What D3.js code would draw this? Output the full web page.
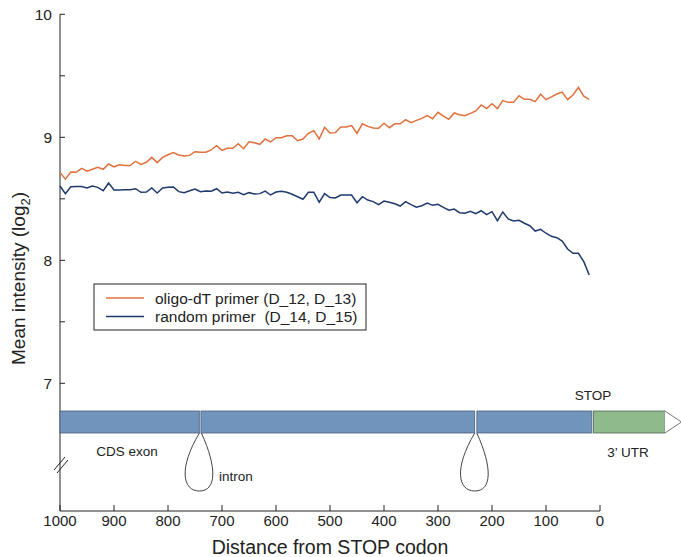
<!DOCTYPE html>
<html lang="en">
<head>
    <meta charset="UTF-8">
    <title>Mean intensity vs distance from STOP codon</title>
    <style>
        body {
            margin: 0;
            background: #fff;
            font-family: "Liberation Sans", Arial, sans-serif;
        }
        .axis-line, .tick {
            stroke: #222;
            stroke-width: 1;
            fill: none;
        }
        .series {
            fill: none;
            stroke-width: 1.5px;
        }
        text {
            white-space: pre;
        }
    </style>
</head>
<body>
    <svg width="681" height="557"></svg>

    <script src="https://d3js.org/d3.v7.min.js"></script>
    <script>
        // distance from STOP codon, 1000 .. 20 step 10
        const distance = d3.range(1000, 19, -10);

        const oligoDT = [
            8.715, 8.66, 8.718, 8.715, 8.748, 8.724, 8.74, 8.756, 8.74, 8.783,
            8.76, 8.777, 8.77, 8.77, 8.805, 8.78, 8.797, 8.837, 8.794, 8.837,
            8.858, 8.875, 8.856, 8.848, 8.853, 8.883, 8.878, 8.878, 8.897, 8.932,
            8.894, 8.91, 8.91, 8.948, 8.907, 8.964, 8.956, 8.943, 8.986, 8.962,
            8.997, 8.997, 9.013, 9.013, 8.972, 8.986, 9.033, 9.054, 8.986, 9.081,
            9.035, 9.038, 9.084, 9.084, 9.095, 9.033, 9.11, 9.089, 9.076, 9.073,
            9.114, 9.078, 9.11, 9.11, 9.143, 9.119, 9.138, 9.154, 9.176, 9.151,
            9.203, 9.173, 9.146, 9.198, 9.184, 9.175, 9.195, 9.214, 9.263, 9.233,
            9.273, 9.233, 9.298, 9.284, 9.284, 9.338, 9.309, 9.309, 9.29, 9.35,
            9.306, 9.328, 9.352, 9.368, 9.306, 9.344, 9.406, 9.335, 9.309
        ];

        const randomPrimer = [
            8.604, 8.542, 8.598, 8.6, 8.6, 8.588, 8.604, 8.593, 8.566, 8.628,
            8.572, 8.572, 8.574, 8.574, 8.582, 8.553, 8.555, 8.588, 8.547, 8.588,
            8.593, 8.596, 8.558, 8.55, 8.566, 8.58, 8.558, 8.563, 8.561, 8.582,
            8.547, 8.555, 8.545, 8.553, 8.534, 8.55, 8.539, 8.542, 8.563, 8.531,
            8.555, 8.561, 8.553, 8.537, 8.517, 8.496, 8.553, 8.553, 8.472, 8.542,
            8.51, 8.507, 8.531, 8.531, 8.531, 8.468, 8.517, 8.49, 8.477, 8.452,
            8.482, 8.472, 8.46, 8.441, 8.477, 8.452, 8.431, 8.444, 8.466, 8.447,
            8.455, 8.431, 8.407, 8.417, 8.387, 8.383, 8.398, 8.379, 8.403, 8.371,
            8.395, 8.322, 8.393, 8.336, 8.32, 8.325, 8.301, 8.281, 8.238, 8.252,
            8.22, 8.195, 8.184, 8.157, 8.092, 8.057, 8.057, 7.989, 7.88
        ];

        const seriesNames = ["oligo-dT primer (D_12, D_13)", "random primer  (D_14, D_15)"];
        const seriesColors = ["#e0703c", "#1e3a6e"];

        const xTicks = [1000, 900, 800, 700, 600, 500, 400, 300, 200, 100, 0];
        const yTicks = [7, 8, 9, 10];
        const yMinorTicks = [7.5, 8.5, 9.5];

        // gene model, in the same distance units as the x axis
        const exons = [[1000, 742], [739, 232], [228, 15]];
        const introns = [740, 230];
        const utr = [12, -120];
        const utrTip = -151;

        const svg = d3.select("svg");

        const x = d3.scaleLinear().domain([1000, 0]).range([60, 600]);
        const y = d3.scaleLinear().domain([7, 10]).range([383.3, 14.3]);
        const axisBottom = 511;

        // axes
        svg.append("line").attr("class", "axis-line")
            .attr("x1", 60).attr("x2", 60).attr("y1", y(10)).attr("y2", axisBottom);
        svg.append("line").attr("class", "axis-line")
            .attr("x1", 60).attr("x2", x(0)).attr("y1", axisBottom).attr("y2", axisBottom);

        svg.selectAll(".ytick").data(yTicks.concat(yMinorTicks)).join("line")
            .attr("class", "tick")
            .attr("x1", 60).attr("x2", 65)
            .attr("y1", d => y(d)).attr("y2", d => y(d));

        svg.selectAll(".ylab").data(yTicks).join("text")
            .attr("x", 52).attr("y", d => y(d))
            .attr("dy", "0.36em")
            .attr("text-anchor", "end")
            .attr("font-size", 15.5)
            .attr("fill", "#222")
            .text(d => d);

        svg.selectAll(".xtick").data(xTicks).join("line")
            .attr("class", "tick")
            .attr("x1", d => x(d)).attr("x2", d => x(d))
            .attr("y1", axisBottom).attr("y2", axisBottom - 6);

        svg.selectAll(".xlab").data(xTicks).join("text")
            .attr("x", d => x(d)).attr("y", axisBottom + 15)
            .attr("text-anchor", "middle")
            .attr("font-size", 15)
            .attr("fill", "#222")
            .text(d => d);

        // axis break
        [0, 3].forEach(off => {
            svg.append("line").attr("class", "tick")
                .attr("x1", 54 + off).attr("y1", 470 + off)
                .attr("x2", 65 + off).attr("y2", 457 + off);
        });

        svg.append("text")
            .attr("x", 330).attr("y", 554)
            .attr("text-anchor", "middle")
            .attr("font-size", 19.5)
            .attr("fill", "#222")
            .text("Distance from STOP codon");

        const ylab = svg.append("text")
            .attr("transform", "translate(25,365) rotate(-90)")
            .attr("text-anchor", "start")
            .attr("font-size", 19)
            .attr("fill", "#222");
        ylab.append("tspan").text("Mean intensity (log");
        ylab.append("tspan").attr("font-size", 13).attr("dy", 5).text("2");
        ylab.append("tspan").attr("dy", -5).text(")");

        // lines
        const line = d3.line().x((d, i) => x(distance[i])).y(d => y(d));
        [oligoDT, randomPrimer].forEach((s, k) => {
            svg.append("path")
                .datum(s)
                .attr("class", "series")
                .attr("stroke", seriesColors[k])
                .attr("d", line);
        });

        // legend
        const lg = svg.append("g").attr("transform", "translate(94,284)");
        lg.append("rect").attr("width", 272).attr("height", 46)
            .attr("fill", "#fff").attr("stroke", "#222").attr("stroke-width", 1);
        seriesNames.forEach((name, k) => {
            const yy = 14 + k * 18.5;
            lg.append("line").attr("x1", 12).attr("x2", 50)
                .attr("y1", yy).attr("y2", yy)
                .attr("stroke", seriesColors[k]).attr("stroke-width", 1.5);
            lg.append("text").attr("x", 61).attr("y", yy).attr("dy", "0.36em")
                .attr("font-size", 15.5).attr("fill", "#222")
                .text(name);
        });

        // gene model
        const barTop = 411, barH = 22;
        const gene = svg.append("g");

        introns.forEach(d => {
            const cx = x(d), top = barTop + barH;
            gene.append("path")
                .attr("d", `M${cx - 1},${top} C${cx - 22},${top + 35} ${cx - 18},${top + 58} ${cx - 1},${top + 58}
                    C${cx + 16},${top + 58} ${cx + 17},${top + 35} ${cx + 1},${top}`)
                .attr("fill", "none").attr("stroke", "#444").attr("stroke-width", 1);
        });

        gene.selectAll(".exon").data(exons).join("rect")
            .attr("x", d => x(d[0])).attr("y", barTop)
            .attr("width", d => x(d[1]) - x(d[0])).attr("height", barH)
            .attr("fill", "#7094bb").attr("stroke", "#4a5e78").attr("stroke-width", 0.8);

        gene.append("rect")
            .attr("x", x(utr[0])).attr("y", barTop)
            .attr("width", x(utr[1]) - x(utr[0])).attr("height", barH)
            .attr("fill", "#8fba8c").attr("stroke", "#4f6a50").attr("stroke-width", 0.8);

        gene.append("path")
            .attr("d", `M${x(utr[1])},${barTop} L${x(utrTip)},${barTop + barH / 2} L${x(utr[1])},${barTop + barH}`)
            .attr("fill", "#fff").attr("stroke", "#555").attr("stroke-width", 0.8);

        const labels = [
            { t: "CDS exon", x: 127, y: 451 },
            { t: "intron", x: 236, y: 476 },
            { t: "STOP", x: 593, y: 395 },
            { t: "3\u2019 UTR", x: 628, y: 452 }
        ];
        gene.selectAll(".glab").data(labels).join("text")
            .attr("x", d => d.x).attr("y", d => d.y).attr("dy", "0.36em")
            .attr("text-anchor", "middle")
            .attr("font-size", 13.5).attr("fill", "#222")
            .text(d => d.t);
    </script>
</body>
</html>
